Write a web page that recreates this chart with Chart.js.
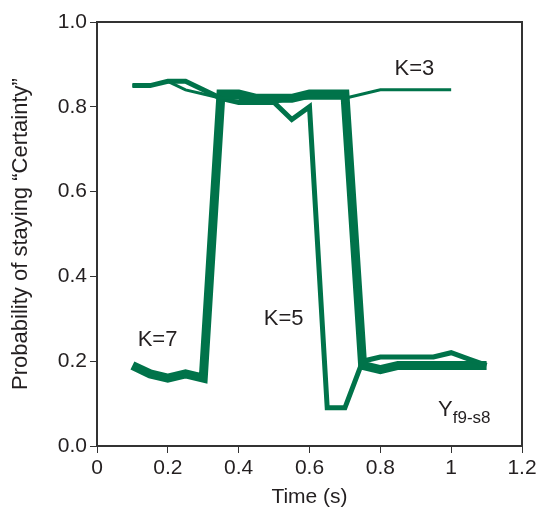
<!DOCTYPE html>
<html>
<head>
<meta charset="utf-8">
<script src="https://cdn.jsdelivr.net/npm/chart.js@4/dist/chart.umd.min.js"></script>
<style>
html,body{margin:0;padding:0;background:#fff;}
#wrap{width:541px;height:515px;position:relative;}
</style>
</head>
<body>
<div id="wrap"><canvas id="c" width="541" height="515"></canvas></div>
<script>
// ---- data ----
const timesK3 = [0.1,0.15,0.2,0.25,0.3,0.35,0.4,0.45,0.5,0.55,0.6,0.65,0.7,0.75,0.8,0.85,0.9,0.95,1.0];
const valuesK3 = [0.85,0.85,0.86,0.84,0.83,0.82,0.82,0.81,0.81,0.82,0.82,0.82,0.82,0.83,0.84,0.84,0.84,0.84,0.84];

const timesK5 = [0.1,0.15,0.2,0.25,0.3,0.35,0.4,0.45,0.5,0.55,0.6,0.65,0.7,0.75,0.8,0.85,0.9,0.95,1.0,1.05,1.1];
const valuesK5 = [0.85,0.85,0.86,0.86,0.84,0.82,0.81,0.81,0.81,0.77,0.80,0.09,0.09,0.20,0.21,0.21,0.21,0.21,0.22,0.205,0.19];

const timesK7 = [0.1,0.15,0.2,0.25,0.3,0.35,0.4,0.45,0.5,0.55,0.6,0.65,0.7,0.75,0.8,0.85,0.9,0.95,1.0,1.05,1.1];
const valuesK7 = [0.19,0.17,0.16,0.17,0.16,0.83,0.83,0.82,0.82,0.82,0.83,0.83,0.83,0.19,0.18,0.19,0.19,0.19,0.19,0.19,0.19];

const xTicks = [0,0.2,0.4,0.6,0.8,1,1.2];
const yTicks = [0,0.2,0.4,0.6,0.8,1.0];

const labels = [
  {text:'K=3', x:0.896, y:0.89},
  {text:'K=7', x:0.171, y:0.25},
  {text:'K=5', x:0.527, y:0.30}
];

// ---- chart ----
const GREEN = '#00734a';
const FONT = "'Liberation Sans', Arial, sans-serif";
const toPts = (xs, ys) => xs.map((x,i)=>({x:x, y:ys[i]}));

const boxPlugin = {
  id:'box',
  afterDraw(chart){
    const {ctx, chartArea:a, scales} = chart;
    ctx.save();
    ctx.strokeStyle = '#333';
    ctx.lineWidth = 2;
    ctx.beginPath();
    ctx.moveTo(a.left, a.top); ctx.lineTo(a.right, a.top); ctx.lineTo(a.right, a.bottom);
    ctx.stroke();
    ctx.fillStyle = '#231f20';
    ctx.textAlign = 'center';
    ctx.textBaseline = 'middle';
    ctx.font = '22px ' + FONT;
    labels.forEach(l=>{
      ctx.fillText(l.text, scales.x.getPixelForValue(l.x), scales.y.getPixelForValue(l.y));
    });
    // Y_f9-s8
    const px = scales.x.getPixelForValue(0.963), py = scales.y.getPixelForValue(0.07);
    ctx.textAlign = 'left';
    ctx.textBaseline = 'alphabetic';
    ctx.font = '22px ' + FONT;
    ctx.fillText('Y', px, py);
    const w = ctx.measureText('Y').width;
    ctx.font = '17px ' + FONT;
    ctx.fillText('f9-s8', px + w, py + 7);
    ctx.restore();
  }
};

new Chart(document.getElementById('c'), {
  type:'line',
  data:{
    datasets:[
      {label:'K=3', data:toPts(timesK3, valuesK3), borderColor:GREEN, borderWidth:3, pointRadius:0, tension:0, fill:false, borderJoinStyle:'miter'},
      {label:'K=5', data:toPts(timesK5, valuesK5), borderColor:GREEN, borderWidth:5, pointRadius:0, tension:0, fill:false, borderJoinStyle:'miter'},
      {label:'K=7', data:toPts(timesK7, valuesK7), borderColor:GREEN, borderWidth:9, pointRadius:0, tension:0, fill:false, borderJoinStyle:'miter'}
    ]
  },
  options:{
    responsive:false,
    animation:false,
    layout:{padding:{top:22, right:19, left:0, bottom:0}},
    plugins:{legend:{display:false}, tooltip:{enabled:false}},
    scales:{
      x:{
        type:'linear', min:0, max:1.2,
        afterBuildTicks(s){ s.ticks = xTicks.map(v=>({value:v})); },
        afterFit(s){ s.height = 69; },
        border:{display:true, color:'#333', width:2},
        grid:{display:true, drawOnChartArea:false, drawTicks:true, tickLength:7, color:'#333', lineWidth:1},
        ticks:{color:'#231f20', font:{family:FONT, size:21}, padding:3, maxRotation:0,
          callback:(v)=> (v===0 ? '0' : (v===1 ? '1' : v.toFixed(1)))},
        title:{display:true, text:'Time (s)', color:'#231f20', font:{family:FONT, size:21}, padding:{top:0,bottom:5}}
      },
      y:{
        type:'linear', min:0, max:1.0,
        afterBuildTicks(s){ s.ticks = yTicks.map(v=>({value:v})); },
        afterFit(s){ s.width = 97; },
        border:{display:true, color:'#333', width:2},
        grid:{display:true, drawOnChartArea:false, drawTicks:true, tickLength:7, color:'#333', lineWidth:1},
        ticks:{color:'#231f20', font:{family:FONT, size:21}, padding:3,
          callback:(v)=> v.toFixed(1)},
        title:{display:true, text:'Probability of staying \u201cCertainty\u201d', color:'#231f20', font:{family:FONT, size:22}, padding:{top:8,bottom:0}}
      }
    }
  },
  plugins:[boxPlugin]
});
</script>
</body>
</html>
